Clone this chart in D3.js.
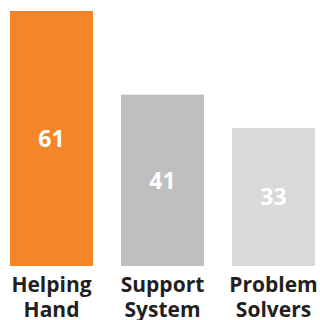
<!DOCTYPE html>
<html>
<head>
<meta charset="utf-8">
<script src="https://cdn.jsdelivr.net/npm/d3@7"></script>
<style>
  html, body { margin: 0; padding: 0; background: #fff; }
  svg { display: block; font-family: "Open Sans", sans-serif; }
</style>
</head>
<body>
<svg id="chart" width="320" height="320"></svg>
<script>
// data
const categories = ["Helping Hand", "Support System", "Problem Solvers"];
const labelLines = [["Helping", "Hand"], ["Support", "System"], ["Problem", "Solvers"]];
const values = [61, 41, 33];
const colors = ["#F4862A", "#BFBFBF", "#D9D9D9"];

const width = 320;
const height = 320;
const margin = { top: 11, right: 5, bottom: 54, left: 10 };

const svg = d3.select("#chart");

const x = d3.scaleBand()
    .domain(categories)
    .range([margin.left, width - margin.right])
    .paddingInner(0.252)
    .paddingOuter(0);

const y = d3.scaleLinear()
    .domain([0, d3.max(values)])
    .range([height - margin.bottom, margin.top]);

const data = categories.map((c, i) => ({ cat: c, value: values[i], color: colors[i], lines: labelLines[i] }));

// bars
svg.selectAll("rect.bar")
    .data(data)
    .enter().append("rect")
    .attr("class", "bar")
    .attr("x", d => x(d.cat))
    .attr("y", d => y(d.value))
    .attr("width", x.bandwidth())
    .attr("height", d => y(0) - y(d.value))
    .attr("fill", d => d.color);

// value labels in the middle of each bar
svg.selectAll("text.val")
    .data(data)
    .enter().append("text")
    .attr("class", "val")
    .attr("x", d => x(d.cat) + x.bandwidth() / 2)
    .attr("y", d => (y(d.value) + y(0)) / 2)
    .attr("dy", "0.36em")
    .attr("text-anchor", "middle")
    .attr("fill", "#fff")
    .style("font-size", "23px")
    .style("font-weight", "bold")
    .text(d => d.value);

// category labels, two lines
const cat = svg.selectAll("text.cat")
    .data(data)
    .enter().append("text")
    .attr("class", "cat")
    .attr("text-anchor", "middle")
    .attr("fill", "#231F20")
    .style("font-size", "21px")
    .style("font-weight", "bold");

cat.selectAll("tspan")
    .data(d => d.lines.map(l => ({ l, cx: x(d.cat) + x.bandwidth() / 2 })))
    .enter().append("tspan")
    .attr("x", d => d.cx)
    .attr("y", (d, i) => 291.5 + i * 25)
    .text(d => d.l);
</script>
</body>
</html>
